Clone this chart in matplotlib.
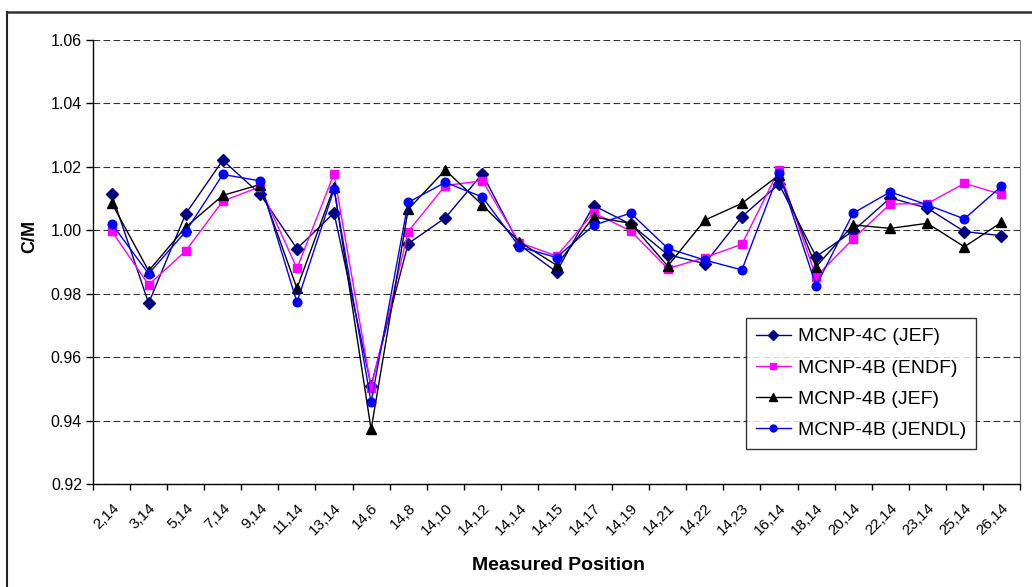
import matplotlib
matplotlib.use('Agg')
import matplotlib.pyplot as plt
from matplotlib.lines import Line2D
import numpy as np

plt.rcParams['font.family'] = ['Liberation Sans', 'DejaVu Sans']

positions = ['2,14', '3,14', '5,14', '7,14', '9,14', '11,14', '13,14', '14,6', '14,8',
             '14,10', '14,12', '14,14', '14,15', '14,17', '14,19', '14,21', '14,22',
             '14,23', '16,14', '18,14', '20,14', '22,14', '23,14', '25,14', '26,14']

mcnp4c_jef = [1.0115, 0.9770, 1.0052, 1.0221, 1.0115, 0.9942, 1.0055, 0.9510, 0.9958,
              1.0039, 1.0178, 0.9954, 0.9869, 1.0078, 1.0019, 0.9923, 0.9895, 1.0043,
              1.0146, 0.9917, 0.9998, 1.0102, 1.0070, 0.9996, 0.9983]
mcnp4b_endf = [0.9998, 0.9828, 0.9935, 1.0092, 1.0137, 0.9880, 1.0178, 0.9504, 0.9996,
               1.0141, 1.0156, 0.9961, 0.9919, 1.0055, 0.9998, 0.9879, 0.9914, 0.9956,
               1.0191, 0.9854, 0.9973, 1.0083, 1.0084, 1.0148, 1.0113]
mcnp4b_jef = [1.0087, 0.9872, 1.0010, 1.0110, 1.0144, 0.9817, 1.0137, 0.9372, 1.0066,
              1.0190, 1.0080, 0.9963, 0.9890, 1.0042, 1.0022, 0.9887, 1.0032, 1.0085,
              1.0174, 0.9885, 1.0017, 1.0006, 1.0022, 0.9948, 1.0025]
mcnp4b_jendl = [1.0021, 0.9863, 0.9996, 1.0176, 1.0156, 0.9773, 1.0129, 0.9458, 1.0088,
                1.0151, 1.0105, 0.9948, 0.9914, 1.0016, 1.0054, 0.9943, 0.9906, 0.9875,
                1.0181, 0.9825, 1.0054, 1.0121, 1.0080, 1.0036, 1.0139]

W, H = 1032, 587
fig = plt.figure(figsize=(W / 100, H / 100), dpi=100)
ax = fig.add_axes((93 / W, 1 - 484 / H, (1020 - 93) / W, (484 - 40) / H))

x = np.arange(len(positions))
ax.plot(x, mcnp4c_jef, '-D', color='#000080', lw=1.0, ms=6, label='MCNP-4C (JEF)')
ax.plot(x, mcnp4b_endf, '-s', color='#FF00FF', lw=1.0, ms=5.5, label='MCNP-4B (ENDF)')
ax.plot(x, mcnp4b_jef, '-^', color='black', lw=1.0, ms=7, label='MCNP-4B (JEF)')
ax.plot(x, mcnp4b_jendl, '-o', color='#0000FF', lw=1.0, ms=6.2, label='MCNP-4B (JENDL)')

ax.set_xlim(-0.5, len(positions) - 0.5)
ax.set_ylim(0.92, 1.06)
ax.set_yticks(np.arange(0.92, 1.0601, 0.02))
ax.set_yticklabels(['%.2f' % v for v in np.arange(0.92, 1.0601, 0.02)], fontsize=11.5)
ax.yaxis.grid(True, color='#333333', ls=(0, (6, 3)), lw=0.8)
ax.set_axisbelow(True)

ax.set_xticks(x)
ax.set_xticklabels(positions, rotation=45, ha='right', rotation_mode='anchor', fontsize=11)
ax.set_xticks(np.arange(-0.5, len(positions)), minor=True)
ax.tick_params(axis='x', which='major', length=0, pad=12)
ax.tick_params(axis='x', which='minor', length=4, direction='out', width=1)
ax.tick_params(axis='y', length=5, direction='out', width=1, pad=3)

ax.spines['top'].set_visible(False)
ax.spines['right'].set_color('#808080')
ax.spines['left'].set_linewidth(1)
ax.spines['bottom'].set_linewidth(1)

fig.text(30 / W, 1 - 236 / H, 'C/M', rotation=90, ha='center', va='center',
         fontsize=13, fontweight='bold')
fig.text(558 / W, 1 - 565 / H, 'Measured Position', ha='center', va='center',
         fontsize=14, fontweight='bold')

leg = ax.legend(loc='upper left', bbox_to_anchor=(746 / W, 1 - 318 / H),
                bbox_transform=fig.transFigure, fontsize=14, frameon=True,
                fancybox=False, edgecolor='black', borderpad=0.5,
                labelspacing=0.7, handlelength=1.8, handletextpad=0.4,
                borderaxespad=0, markerscale=0.8)
leg.get_frame().set_linewidth(1)

# outer chart border (only left and top edges fall inside the image)
fig.add_artist(Line2D([7 / W, 7 / W], [0, 1 - 12 / H], transform=fig.transFigure,
                      color='#222222', lw=1.5))
fig.add_artist(Line2D([7 / W, 1], [1 - 12 / H, 1 - 12 / H], transform=fig.transFigure,
                      color='#333333', lw=1.8))

fig.savefig('out.png', dpi=100)
